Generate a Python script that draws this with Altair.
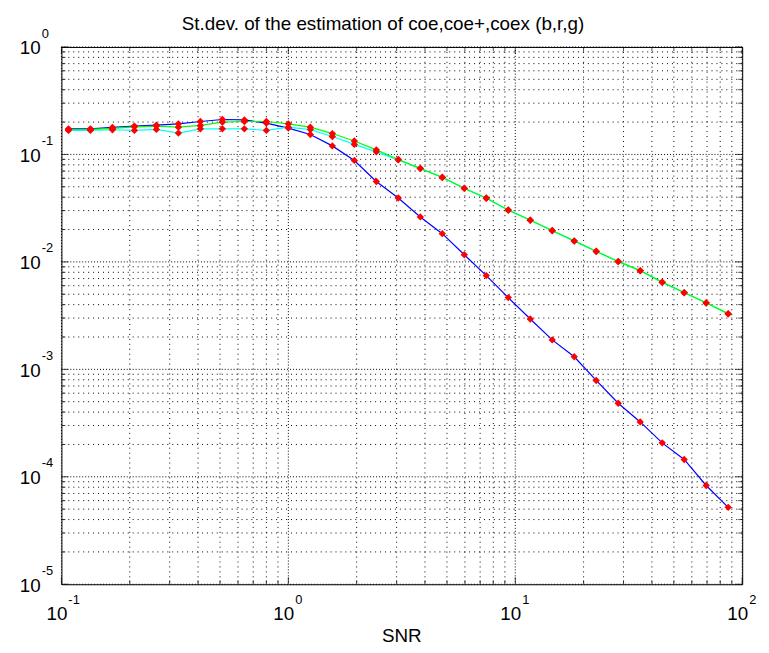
import altair as alt
import pandas as pd

# ---------------- data ----------------
snr = [0.1074, 0.1342, 0.1678, 0.2097, 0.2621, 0.3277, 0.4096, 0.512, 0.64, 0.8,
       1.0, 1.25, 1.5625, 1.9531, 2.4414, 3.0518, 3.8147, 4.7684, 5.9605, 7.4506,
       9.3132, 11.642, 14.552, 18.190, 22.737, 28.422, 35.527, 44.409, 55.511,
       69.389, 86.736]

coe = [0.1732, 0.1732, 0.1784, 0.1834, 0.1873, 0.1925, 0.2025, 0.2114, 0.2096, 0.1954,
       0.1758, 0.1531, 0.1201, 0.0879, 0.0560, 0.0393, 0.0262, 0.0183, 0.01165, 0.00746,
       0.00465, 0.00294, 0.00188, 0.00131, 0.000788, 0.000484, 0.000324, 0.000207,
       0.000145, 0.000083, 0.000052]

coe_plus = [0.1674, 0.1674, 0.1696, 0.1674, 0.1710, 0.1581, 0.1732, 0.1732, 0.1732, 0.1674,
            0.1795, 0.1703, 0.1468, 0.1239, 0.1057, 0.0890, 0.0738, 0.0610, 0.0483, 0.0391,
            0.0303, 0.0244, 0.0195, 0.0156, 0.0125, 0.01005, 0.00826, 0.00645, 0.00516,
            0.00414, 0.00328]

coex = [0.1696, 0.1711, 0.1746, 0.1806, 0.1834, 0.1795, 0.1861, 0.1996, 0.2025, 0.2025,
        0.1925, 0.1795, 0.1564, 0.1334, 0.1103, 0.0897, 0.0742, 0.0613, 0.0485, 0.0393,
        0.0304, 0.0245, 0.0196, 0.0157, 0.01255, 0.0101, 0.0083, 0.00648, 0.00518,
        0.00416, 0.0033]

x_major = [0.1, 1, 10, 100]
x_exp = ["-1", "0", "1", "2"]
x_minor = [m * d for d in [0.1, 1, 10] for m in range(2, 10)]

y_major = [1e-5, 1e-4, 1e-3, 1e-2, 1e-1, 1]
y_exp = ["-5", "-4", "-3", "-2", "-1", "0"]
y_minor = [m * d for d in [1e-5, 1e-4, 1e-3, 1e-2, 1e-1] for m in range(2, 10)]

title_text = "St.dev. of the estimation of coe,coe+,coex (b,r,g)"
x_title = "SNR"

# ---------------- layout ----------------
W, H = 688, 543
FONT = "Liberation Sans"

xs = alt.Scale(type="log", domain=[0.1, 100], nice=False)
ys = alt.Scale(type="log", domain=[1e-5, 1], nice=False)

df = pd.DataFrame({"snr": snr, "coe": coe, "coe_plus": coe_plus, "coex": coex})
xmaj = pd.DataFrame({"v": x_major, "base": ["10"] * 4, "exp": x_exp})
xmin = pd.DataFrame({"v": x_minor})
ymaj = pd.DataFrame({"v": y_major, "base": ["10"] * 6, "exp": y_exp})
ymin = pd.DataFrame({"v": y_minor})

X = lambda f: alt.X(f, scale=xs, axis=None)
Y = lambda f: alt.Y(f, scale=ys, axis=None)

grid_xmin = alt.Chart(xmin).mark_rule(color="black", strokeWidth=1, strokeDash=[1, 4]).encode(x=X("v:Q"))
grid_xmaj = alt.Chart(xmaj).mark_rule(color="black", strokeWidth=1, strokeDash=[1, 2]).encode(x=X("v:Q"))
grid_ymin = alt.Chart(ymin).mark_rule(color="black", strokeWidth=1, strokeDash=[1, 4]).encode(y=Y("v:Q"))
grid_ymaj = alt.Chart(ymaj).mark_rule(color="black", strokeWidth=1, strokeDash=[1, 2]).encode(y=Y("v:Q"))

def line(col, color):
    return alt.Chart(df).mark_line(color=color, strokeWidth=1.2).encode(x=X("snr:Q"), y=Y(f"{col}:Q"))

def pts(col):
    return alt.Chart(df).mark_point(shape="diamond", filled=True, color="#ff0000", size=55, opacity=1).encode(
        x=X("snr:Q"), y=Y(f"{col}:Q"))

# ticks (inward) on all four sides
def xticks(data, size, ypos):
    return alt.Chart(data).mark_tick(color="black", size=size, thickness=1, orient="vertical").encode(
        x=X("v:Q"), y=alt.value(ypos))

def yticks(data, size, xpos):
    return alt.Chart(data).mark_tick(color="black", size=size, thickness=1, orient="horizontal").encode(
        y=Y("v:Q"), x=alt.value(xpos))

ticks = [
    xticks(xmaj, 7, H - 3.5), xticks(xmin, 4, H - 2), xticks(xmaj, 7, 3.5), xticks(xmin, 4, 2),
    yticks(ymaj, 7, 3.5), yticks(ymin, 4, 2), yticks(ymaj, 7, W - 3.5), yticks(ymin, 4, W - 2),
]

# tick labels 10^n
xlab_base = alt.Chart(xmaj).mark_text(align="right", baseline="alphabetic", fontSize=19, font=FONT,
                                      color="black", dx=6).encode(x=X("v:Q"), y=alt.value(H + 36), text="base:N")
xlab_exp = alt.Chart(xmaj).mark_text(align="left", baseline="alphabetic", fontSize=13, font=FONT,
                                     color="black", dx=7).encode(x=X("v:Q"), y=alt.value(H + 20), text="exp:N")
ylab_base = alt.Chart(ymaj).mark_text(align="right", baseline="alphabetic", fontSize=19, font=FONT,
                                      color="black", dy=7.5).encode(y=Y("v:Q"), x=alt.value(-21), text="base:N")
ylab_exp = alt.Chart(ymaj).mark_text(align="left", baseline="alphabetic", fontSize=13, font=FONT,
                                     color="black", dy=-9.5).encode(y=Y("v:Q"), x=alt.value(-20), text="exp:N")

title = alt.Chart(pd.DataFrame({"t": [title_text]})).mark_text(
    align="center", baseline="alphabetic", fontSize=19, font=FONT, color="black").encode(
    x=alt.value(325), y=alt.value(-17), text="t:N")
xtitle = alt.Chart(pd.DataFrame({"t": [x_title]})).mark_text(
    align="center", baseline="middle", fontSize=19, font=FONT, color="black").encode(
    x=alt.value(W / 2), y=alt.value(H + 52), text="t:N")

chart = alt.layer(
    grid_xmin, grid_xmaj, grid_ymin, grid_ymaj,
    line("coe", "#0000ff"), line("coe_plus", "#00ffff"), line("coex", "#00ff00"),
    pts("coe"), pts("coe_plus"), pts("coex"),
    *ticks,
    xlab_base, xlab_exp, ylab_base, ylab_exp, title, xtitle,
).properties(
    width=W, height=H,
    autosize=alt.AutoSizeParams(type="none"),
    padding={"left": 54, "top": 36, "right": 19, "bottom": 58},
    background="white",
).configure_view(stroke="black", strokeWidth=1)

chart.save("out.html", embed_options={"renderer": "svg", "actions": False})
